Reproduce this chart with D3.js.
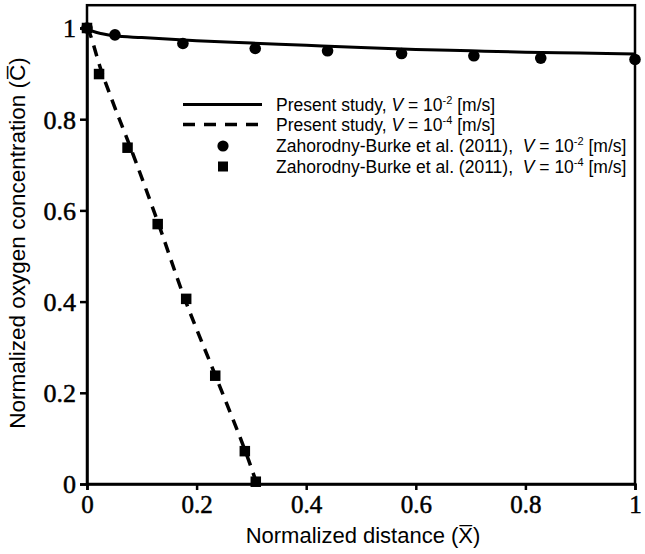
<!DOCTYPE html>
<html><head><meta charset="utf-8">
<script src="https://cdn.jsdelivr.net/npm/d3@7/dist/d3.min.js"></script>
<style>
body{margin:0;background:#fff;}
svg{display:block;}
</style></head>
<body><svg id="c" width="645" height="554"></svg>
<script>
// Data
const xTicks = [0, 0.2, 0.4, 0.6, 0.8, 1];
const yTicks = [0, 0.2, 0.4, 0.6, 0.8, 1];
// Present study, V = 1e-2 (solid line)
const solidX = [0, 0.01, 0.03, 0.05, 0.1, 0.2, 0.3, 0.4, 0.5, 0.6, 0.7, 0.8, 0.9, 1.0];
const solidY = [1.0, 0.993, 0.987, 0.983, 0.979, 0.972, 0.967, 0.962, 0.957, 0.953, 0.950, 0.947, 0.945, 0.943];
// Present study, V = 1e-4 (dashed line)
const dashX = [0, 0.006, 0.024, 0.05, 0.079, 0.13, 0.179, 0.234, 0.288, 0.31];
const dashY = [1.0, 0.985, 0.914, 0.828, 0.739, 0.572, 0.404, 0.239, 0.075, 0.0];
// Zahorodny-Burke et al. (2011), V = 1e-2 (circles)
const circX = [0, 0.051, 0.175, 0.307, 0.439, 0.574, 0.706, 0.828, 1.0];
const circY = [1.0, 0.985, 0.966, 0.955, 0.950, 0.944, 0.939, 0.934, 0.931];
// Zahorodny-Burke et al. (2011), V = 1e-4 (squares)
const sqX = [0, 0.022, 0.074, 0.129, 0.181, 0.234, 0.288, 0.308];
const sqY = [1.0, 0.899, 0.7375, 0.570, 0.406, 0.2375, 0.072, 0.005];

const svg = d3.select("#c");
const x = d3.scaleLinear().domain([0, 1]).range([87, 635]);
const y = d3.scaleLinear().domain([0, 1]).range([484, 28]);
const yTop = y(1.05);
const fmt = d => d === 0 ? "0" : d === 1 ? "1" : d3.format(".1f")(d);

// frame
svg.append("rect").attr("x", x(0)).attr("y", yTop).attr("width", x(1) - x(0)).attr("height", y(0) - yTop)
  .attr("fill", "none").attr("stroke", "#000").attr("stroke-width", 2.5);

const xAxis = svg.append("g").attr("transform", `translate(0,${y(0)})`)
  .call(d3.axisBottom(x).tickValues(xTicks).tickFormat(fmt).tickSize(6).tickPadding(5));
const yAxis = svg.append("g").attr("transform", `translate(${x(0)},0)`)
  .call(d3.axisLeft(y).tickValues(yTicks).tickFormat(fmt).tickSize(7).tickPadding(4));
[xAxis, yAxis].forEach(g => {
  g.select(".domain").attr("stroke", "#000").attr("stroke-width", 2.5);
  g.selectAll(".tick line").attr("stroke", "#000").attr("stroke-width", 2.5);
  g.selectAll(".tick text").attr("fill", "#000").attr("font-size", 26)
    .attr("font-family", "Liberation Serif, serif").attr("stroke", "#000").attr("stroke-width", 0.5);
});
xAxis.selectAll(".tick text").attr("font-size", 25);
yAxis.selectAll(".tick text").attr("dy", "0.34em");

const line = d3.line().x(d => x(d[0])).y(d => y(d[1])).curve(d3.curveMonotoneX);
svg.append("path").datum(solidX.map((v, i) => [v, solidY[i]])).attr("d", line)
  .attr("fill", "none").attr("stroke", "#000").attr("stroke-width", 3);
const line2 = d3.line().x(d => x(d[0])).y(d => y(d[1])).curve(d3.curveCatmullRom);
svg.append("path").datum(dashX.map((v, i) => [v, dashY[i]])).attr("d", line2)
  .attr("fill", "none").attr("stroke", "#000").attr("stroke-width", 3.5).attr("stroke-dasharray", "11,8");

svg.append("g").selectAll("circle").data(circX.map((v, i) => [v, circY[i]])).join("circle")
  .attr("cx", d => x(d[0])).attr("cy", d => y(d[1])).attr("r", 5.8).attr("fill", "#000");
const s = 10.5;
svg.append("g").selectAll("rect").data(sqX.map((v, i) => [v, sqY[i]])).join("rect")
  .attr("x", d => x(d[0]) - s / 2).attr("y", d => y(d[1]) - s / 2).attr("width", s).attr("height", s).attr("fill", "#000");

// Legend
const lg = svg.append("g").attr("font-family", "Liberation Sans, Arial, sans-serif").attr("font-size", 17.5);
const rows = [
  {type: "solid", pre: "Present study, ", exp: "-2"},
  {type: "dash", pre: "Present study, ", exp: "-4"},
  {type: "circle", pre: "Zahorodny-Burke et al. (2011),\u00a0\u00a0", exp: "-2"},
  {type: "square", pre: "Zahorodny-Burke et al. (2011),\u00a0\u00a0", exp: "-4"}
];
const rowY = [104.5, 124.5, 146, 166.5];
rows.forEach((r, i) => {
  const cy = rowY[i];
  if (r.type === "solid") lg.append("line").attr("x1", 183).attr("x2", 262).attr("y1", cy).attr("y2", cy).attr("stroke", "#000").attr("stroke-width", 3);
  if (r.type === "dash") lg.append("line").attr("x1", 183).attr("x2", 262).attr("y1", cy).attr("y2", cy).attr("stroke", "#000").attr("stroke-width", 3.5).attr("stroke-dasharray", "12,9");
  if (r.type === "circle") lg.append("circle").attr("cx", 223).attr("cy", cy).attr("r", 5.6).attr("fill", "#000");
  if (r.type === "square") lg.append("rect").attr("x", 223 - 5).attr("y", cy - 5).attr("width", 10).attr("height", 10).attr("fill", "#000");
  const t = lg.append("text").attr("x", 276).attr("y", cy + 6).attr("fill", "#000");
  t.append("tspan").text(r.pre);
  t.append("tspan").attr("font-style", "italic").text("V");
  t.append("tspan").text(" = 10");
  t.append("tspan").attr("font-size", 11).attr("dy", -7).text(r.exp);
  t.append("tspan").attr("dy", 7).text(" [m/s]");
});

// Axis titles
svg.append("text").attr("x", 363).attr("y", 543).attr("text-anchor", "middle")
  .attr("font-family", "Liberation Sans, Arial, sans-serif").attr("font-size", 22).attr("fill", "#000")
  .text("Normalized distance (X\u0305)");
svg.append("text").attr("transform", "translate(25,243) rotate(-90)").attr("text-anchor", "middle")
  .attr("font-family", "Liberation Sans, Arial, sans-serif").attr("font-size", 22.5).attr("fill", "#000")
  .text("Normalized oxygen concentration (C\u0305)");
</script></body></html>
